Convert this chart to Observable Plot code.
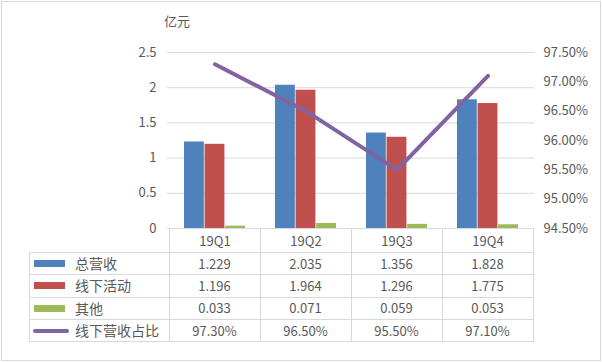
<!DOCTYPE html>
<html><head><meta charset="utf-8">
<script src="https://cdn.jsdelivr.net/npm/d3@7"></script>
<script src="https://cdn.jsdelivr.net/npm/@observablehq/plot@0.6"></script>
<style>
body{margin:0;background:#fff;}
#wrap{position:relative;width:602px;height:362px;font-family:"Noto Sans CJK SC","Noto Sans",sans-serif;color:#595959;overflow:hidden;}
#frame{position:absolute;left:1px;top:1px;width:600px;height:360px;border:1px solid #d9d9d9;box-sizing:border-box;}
#chart{position:absolute;left:0;top:0;}
.unit{position:absolute;left:164px;top:11px;font-size:13px;}
.hl{position:absolute;height:1px;background:#d9d9d9;}
.vl{position:absolute;width:1px;background:#d9d9d9;}
.cell{position:absolute;display:flex;align-items:center;justify-content:center;font-size:13px;}
.leg{position:absolute;display:flex;align-items:center;font-size:14px;}
.sw{position:absolute;}
</style></head>
<body><div id="wrap"><div id="frame"></div><div id="chart"></div><div class="unit">亿元</div></div>
<script>
const quarters = ["19Q1","19Q2","19Q3","19Q4"];
const seriesNames = ["总营收","线下活动","其他"];
const totalRevenue = [1.229,2.035,1.356,1.828];
const offlineActivity = [1.196,1.964,1.296,1.775];
const otherRevenue = [0.033,0.071,0.059,0.053];
const lineName = "线下营收占比";
const offlineShare = [97.30,96.50,95.50,97.10];
const leftTicks = [0,0.5,1,1.5,2,2.5];
const rightTicks = [94.5,95,95.5,96,96.5,97,97.5];

const barColors = ["#4F81BD","#C0504D","#9BBB59"];
const lineColor = "#8064A2";
const barSeries = [totalRevenue, offlineActivity, otherRevenue];

const pMin = 94.5, pMax = 97.5, yMax = 2.5;
const pctToY = p => (p - pMin) / (pMax - pMin) * yMax;
const yToPct = y => pMin + y / yMax * (pMax - pMin);

const W = 602, H = 362;
const mL = 167, mR = 68, mT = 52, mB = 134;
const bandW = (W - mL - mR) / quarters.length;
const barW = 20.6;
const inset = (bandW - barW) / 2;

const marks = [
  Plot.ruleY(leftTicks, {stroke: "#d9d9d9", strokeWidth: 1}),
  ...barSeries.map((vals, i) => Plot.barY(quarters, {
    x: d => d, y: (d, j) => vals[j], fill: barColors[i],
    insetLeft: inset, insetRight: inset, dx: (i - 1) * barW
  })),
  Plot.line(quarters, {
    x: d => d, y: (d, j) => pctToY(offlineShare[j]),
    stroke: lineColor, strokeWidth: 4, strokeLinecap: "round", strokeLinejoin: "round"
  }),
  Plot.axisY(leftTicks, {anchor: "left", tickSize: 0, tickPadding: 11, tickFormat: d => String(d)}),
  Plot.axisY(rightTicks.map(pctToY), {anchor: "right", tickSize: 0, tickPadding: 9,
    tickFormat: d => yToPct(d).toFixed(2) + "%"}),
  Plot.axisX(quarters, {anchor: "bottom", tickSize: 0, tickPadding: 8})
];

const chart = Plot.plot({
  width: W, height: H,
  marginLeft: mL, marginRight: mR, marginTop: mT, marginBottom: mB,
  x: {type: "band", domain: quarters, padding: 0, axis: null},
  y: {domain: [0, yMax], axis: null},
  style: {fontSize: "13px", fontFamily: '"Noto Sans CJK SC","Noto Sans",sans-serif', color: "#595959", background: "transparent"},
  marks
});
document.getElementById("chart").appendChild(chart);

// data table below the plot, aligned on the x scale
const wrap = document.getElementById("wrap");
const xs = chart.scale("x");
const starts = quarters.map(q => xs.apply(q));
const bw = xs.bandwidth;
const plotLeft = starts[0], plotRight = starts[starts.length - 1] + bw;
const tableLeft = 29;
const y0 = 228, headerBottom = 252, rowH = 22.3;
const nRows = 4;
const rowTops = d3.range(nRows + 1).map(i => headerBottom + i * rowH);
const tableBottom = rowTops[nRows];

function add(cls, style, html) {
  const e = document.createElement("div");
  e.className = cls;
  Object.assign(e.style, style);
  if (html != null) e.innerHTML = html;
  wrap.appendChild(e);
  return e;
}
// horizontal lines
rowTops.forEach(t => add("hl", {left: tableLeft + "px", top: Math.round(t) + "px", width: (plotRight - tableLeft + 1) + "px"}));
// vertical lines
add("vl", {left: tableLeft + "px", top: headerBottom + "px", height: (Math.round(tableBottom) - headerBottom) + "px"});
[...starts, plotRight].forEach(x => add("vl", {left: Math.round(x) + "px", top: y0 + "px", height: (Math.round(tableBottom) - y0) + "px"}));

const rows = [
  {name: seriesNames[0], vals: totalRevenue.map(v => v.toFixed(3)), kind: "bar", color: barColors[0]},
  {name: seriesNames[1], vals: offlineActivity.map(v => v.toFixed(3)), kind: "bar", color: barColors[1]},
  {name: seriesNames[2], vals: otherRevenue.map(v => v.toFixed(3)), kind: "bar", color: barColors[2]},
  {name: lineName, vals: offlineShare.map(v => v.toFixed(2) + "%"), kind: "line", color: lineColor}
];
rows.forEach((r, i) => {
  const top = rowTops[i], h = rowH;
  const cy = top + h / 2 + 0.5;
  if (r.kind === "bar") add("sw", {left: "34px", top: (cy - 3.5) + "px", width: "31px", height: "7px", background: r.color});
  else add("sw", {left: "33px", top: (cy - 2) + "px", width: "36px", height: "4px", background: r.color, borderRadius: "2px"});
  add("leg", {left: "75px", top: top + "px", height: h + "px"}, r.name);
  r.vals.forEach((v, j) => add("cell", {left: starts[j] + "px", top: top + "px", width: bw + "px", height: h + "px"}, v));
});
</script></body></html>
